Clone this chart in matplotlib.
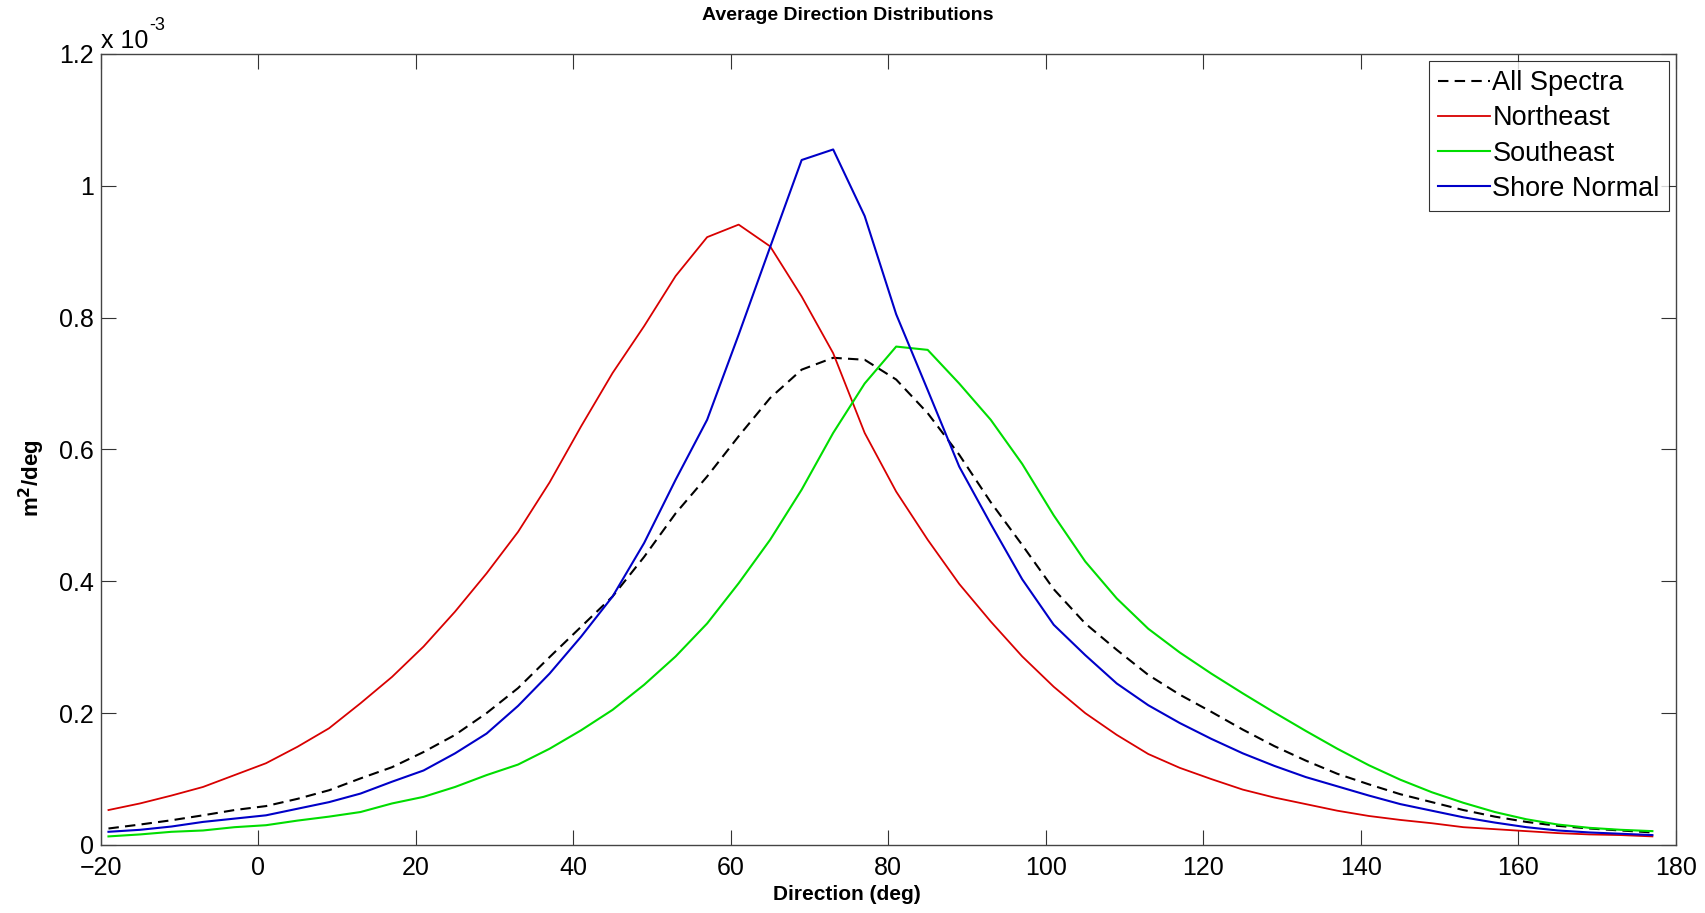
import numpy as np
import matplotlib.pyplot as plt

# directions (deg), 4 deg bins
direction = np.arange(-19, 178, 4)

# energy density, in units of 1e-3 m^2/deg
all_spectra = [0.025, 0.031, 0.0375, 0.045, 0.053, 0.059, 0.070, 0.083, 0.101, 0.118,
               0.141, 0.167, 0.200, 0.238, 0.285, 0.331, 0.377, 0.437, 0.503, 0.559,
               0.620, 0.678, 0.721, 0.739, 0.736, 0.706, 0.655, 0.592, 0.520, 0.455,
               0.388, 0.336, 0.296, 0.258, 0.228, 0.202, 0.175, 0.150, 0.128, 0.108,
               0.092, 0.077, 0.065, 0.053, 0.043, 0.035, 0.029, 0.025, 0.022, 0.019]
northeast = [0.053, 0.063, 0.075, 0.088, 0.106, 0.124, 0.149, 0.177, 0.215, 0.255,
             0.301, 0.354, 0.412, 0.475, 0.550, 0.635, 0.716, 0.787, 0.863, 0.922,
             0.941, 0.908, 0.832, 0.746, 0.625, 0.536, 0.463, 0.396, 0.339, 0.286,
             0.240, 0.200, 0.167, 0.138, 0.117, 0.100, 0.084, 0.072, 0.062, 0.052,
             0.044, 0.038, 0.033, 0.027, 0.024, 0.021, 0.018, 0.016, 0.015, 0.013]
southeast = [0.013, 0.016, 0.020, 0.022, 0.027, 0.030, 0.037, 0.043, 0.050, 0.063,
             0.073, 0.088, 0.106, 0.122, 0.146, 0.174, 0.205, 0.243, 0.286, 0.336,
             0.397, 0.463, 0.539, 0.625, 0.700, 0.756, 0.751, 0.700, 0.645, 0.578,
             0.500, 0.430, 0.374, 0.328, 0.292, 0.260, 0.230, 0.201, 0.173, 0.146,
             0.121, 0.099, 0.080, 0.064, 0.050, 0.039, 0.031, 0.026, 0.023, 0.021]
shore_normal = [0.020, 0.023, 0.028, 0.035, 0.040, 0.045, 0.055, 0.065, 0.078, 0.096,
                0.113, 0.139, 0.169, 0.211, 0.260, 0.316, 0.377, 0.458, 0.554, 0.645,
                0.774, 0.907, 1.039, 1.055, 0.954, 0.805, 0.690, 0.574, 0.487, 0.403,
                0.334, 0.288, 0.245, 0.212, 0.185, 0.161, 0.139, 0.120, 0.103, 0.089,
                0.075, 0.062, 0.052, 0.042, 0.034, 0.027, 0.022, 0.019, 0.017, 0.015]

xticks = np.arange(-20, 181, 20)
yticks = [0, 0.2, 0.4, 0.6, 0.8, 1, 1.2]
ytick_labels = ['0', '0.2', '0.4', '0.6', '0.8', '1', '1.2']

plt.rcParams['font.family'] = ['Liberation Sans', 'DejaVu Sans']

fig = plt.figure(figsize=(17.05, 9.13), dpi=100)
ax = fig.add_axes([0.059, 0.0745, 0.924, 0.8665])

ax.plot(direction, all_spectra, '--', color='black', lw=1.5, dashes=(5, 3), label='All Spectra')
ax.plot(direction, northeast, color='#d80000', lw=1.3, label='Northeast')
ax.plot(direction, southeast, color='#00dd00', lw=1.5, label='Southeast')
ax.plot(direction, shore_normal, color='#0000c8', lw=1.5, label='Shore Normal')

ax.set_xlim(-20, 180)
ax.set_ylim(0, 1.2)
ax.set_xticks(xticks)
ax.set_yticks(yticks)
ax.set_yticklabels(ytick_labels)

# matlab-ish ticks: inward, on all four sides
ax.tick_params(direction='in', length=11, width=0.8, labelsize=18, colors='#333333',
               top=True, right=True, labelcolor='black')
ax.tick_params(axis='x', pad=8)
ax.tick_params(axis='y', pad=5)
for s in ax.spines.values():
    s.set_color('#444444')
    s.set_linewidth(1.0)

# exponent label above the y axis
ax.text(0.0, 1.0076, 'x 10', transform=ax.transAxes, fontsize=18,
        ha='left', va='baseline')
ax.text(0.0307, 1.030, '-3', transform=ax.transAxes, fontsize=13,
        ha='left', va='baseline')

ax.set_title('Average Direction Distributions', fontsize=14, fontweight='bold',
             x=0.474, y=1.027, va='bottom')
ax.set_xlabel('Direction (deg)', fontsize=15, fontweight='bold')
ax.xaxis.set_label_coords(0.474, -0.05)
ax.set_ylabel(r'm$^\mathbf{2}$/deg', fontsize=16, fontweight='bold')
ax.yaxis.set_label_coords(-0.034, 0.464)

leg = ax.legend(loc='upper right', fontsize=19.5, frameon=True, fancybox=False,
                edgecolor='black', handlelength=1.9, handletextpad=0.1,
                borderpad=0.35, labelspacing=0.34, borderaxespad=0.25)
leg.get_frame().set_linewidth(0.8)

fig.savefig('out.png', dpi=100)
